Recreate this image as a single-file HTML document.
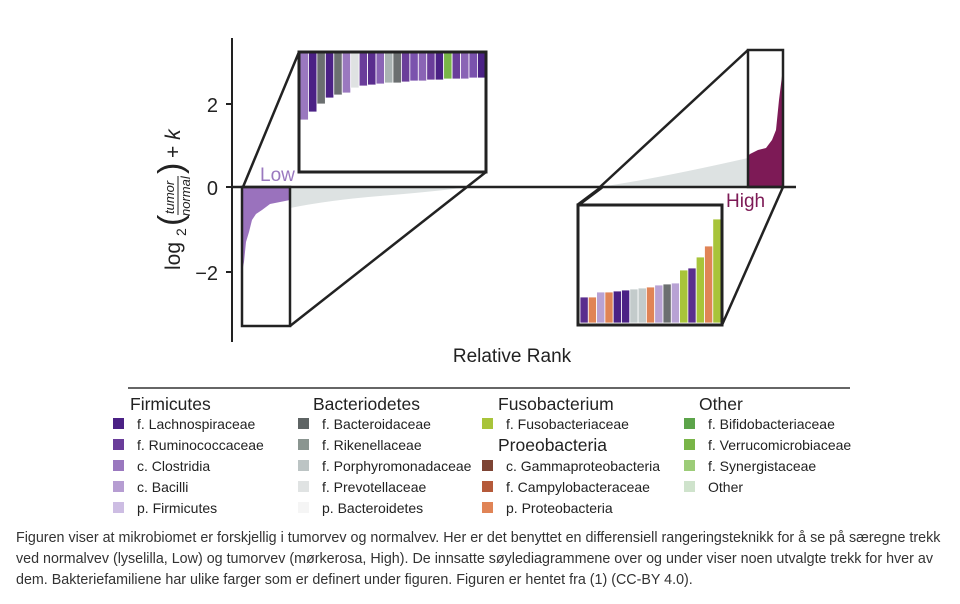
<!DOCTYPE html>
<html><head><meta charset="utf-8"><style>
body{margin:0;background:#fff;width:960px;height:604px;overflow:hidden;font-family:"Liberation Sans",sans-serif}
svg{position:absolute;left:0;top:0}
</style></head><body>
<svg width="960" height="604" viewBox="0 0 960 604" font-family="Liberation Sans, sans-serif">
<line x1="232" y1="38" x2="232" y2="342" stroke="#222" stroke-width="2"/>
<line x1="226" y1="104" x2="232" y2="104" stroke="#222" stroke-width="2"/>
<line x1="226" y1="187" x2="232" y2="187" stroke="#222" stroke-width="2"/>
<line x1="226" y1="272" x2="232" y2="272" stroke="#222" stroke-width="2"/>
<text x="218" y="112" font-size="20" text-anchor="end" fill="#222">2</text>
<text x="218" y="195" font-size="20" text-anchor="end" fill="#222">0</text>
<text x="218" y="280" font-size="20" text-anchor="end" fill="#222">−2</text>
<g transform="translate(180,190) rotate(-90)" fill="#222">
<text x="-80" y="0" font-size="21">log</text><text x="-46" y="6" font-size="14">2</text>
<text x="-36" y="2" font-size="34" font-weight="100">(</text>
<text x="-24" y="-6" font-size="13" font-style="italic">tumor</text>
<line x1="-25" y1="-2" x2="14" y2="-2" stroke="#222" stroke-width="1"/>
<text x="-26" y="10" font-size="13" font-style="italic">normal</text>
<text x="16" y="2" font-size="34">)</text>
<text x="32" y="0" font-size="21">+ <tspan font-style="italic">k</tspan></text>
</g>
<text x="512" y="362" font-size="19" text-anchor="middle" fill="#222">Relative Rank</text>
<path d="M290,187 L290,208 Q330,200 380,196 Q430,192 470,187 Z" fill="#dde2e2"/>
<path d="M600,187 Q660,178 748,158 L748,187 Z" fill="#dde2e2"/>
<path d="M242,187 L290,187 L290,200 L270,204 L262,210 L256,214 L252,220 L249,232 L246,242 L244,262 L242,272 Z" fill="#9a72bd"/>
<path d="M748,187 L783,187 L783,68 L779,100 L776,130 L772,140 L766,148 L758,150 L750,154 L748,156 Z" fill="#7d1a56"/>
<line x1="232" y1="187" x2="796" y2="187" stroke="#222" stroke-width="2.5"/>
<text x="260" y="181" font-size="19" fill="#9a78bf">Low</text>
<text x="726" y="207" font-size="19" fill="#7d1a56">High</text>
<rect x="242" y="187" width="48" height="139" fill="none" stroke="#222" stroke-width="2.5"/>
<line x1="243" y1="187" x2="299" y2="52" stroke="#222" stroke-width="2.5"/>
<line x1="290" y1="326" x2="486" y2="172" stroke="#222" stroke-width="2.5"/>
<g stroke="#fff" stroke-width="0.8">
<rect x="300" y="53" width="8.45" height="67" fill="#9a78bf"/>
<rect x="308.45" y="53" width="8.45" height="59" fill="#4b2185"/>
<rect x="316.9" y="53" width="8.45" height="51" fill="#6b6f70"/>
<rect x="325.35" y="53" width="8.45" height="45" fill="#4b2185"/>
<rect x="333.8" y="53" width="8.45" height="42" fill="#6b6f70"/>
<rect x="342.25" y="53" width="8.45" height="40" fill="#9a78bf"/>
<rect x="350.7" y="53" width="8.45" height="35" fill="#dfe2e2"/>
<rect x="359.15" y="53" width="8.45" height="33" fill="#6a3d9a"/>
<rect x="367.6" y="53" width="8.45" height="32" fill="#5a2d8e"/>
<rect x="376.05" y="53" width="8.45" height="31" fill="#8a64b5"/>
<rect x="384.5" y="53" width="8.45" height="30" fill="#aab3b3"/>
<rect x="392.95" y="53" width="8.45" height="30" fill="#6b6f70"/>
<rect x="401.4" y="53" width="8.45" height="29" fill="#6a3d9a"/>
<rect x="409.85" y="53" width="8.45" height="28" fill="#7a52ad"/>
<rect x="418.3" y="53" width="8.45" height="28" fill="#8a64b5"/>
<rect x="426.75" y="53" width="8.45" height="27" fill="#6a3d9a"/>
<rect x="435.2" y="53" width="8.45" height="27" fill="#4b2185"/>
<rect x="443.65" y="53" width="8.45" height="26" fill="#79b548"/>
<rect x="452.1" y="53" width="8.45" height="26" fill="#6a3d9a"/>
<rect x="460.55" y="53" width="8.45" height="26" fill="#8a64b5"/>
<rect x="469" y="53" width="8.45" height="25" fill="#7a52ad"/>
<rect x="477.45" y="53" width="8.45" height="25" fill="#4b2185"/>
</g>
<rect x="299" y="52" width="187" height="120" fill="none" stroke="#222" stroke-width="3"/>
<rect x="748" y="50" width="35" height="137" fill="none" stroke="#222" stroke-width="2.5"/>
<line x1="600" y1="187" x2="748" y2="50" stroke="#222" stroke-width="2.5"/>
<line x1="578" y1="205" x2="602" y2="187" stroke="#222" stroke-width="3.5"/>
<line x1="722" y1="325" x2="783" y2="187" stroke="#222" stroke-width="2.5"/>
<g stroke="#fff" stroke-width="0.8">
<rect x="580" y="297" width="8.3" height="26" fill="#5a2d8e"/>
<rect x="588.3" y="297" width="8.3" height="26" fill="#e08456"/>
<rect x="596.6" y="292" width="8.3" height="31" fill="#b8a2d4"/>
<rect x="604.9" y="292" width="8.3" height="31" fill="#e08456"/>
<rect x="613.2" y="291" width="8.3" height="32" fill="#4b2185"/>
<rect x="621.5" y="290" width="8.3" height="33" fill="#4b2185"/>
<rect x="629.8" y="289" width="8.3" height="34" fill="#c3cbcb"/>
<rect x="638.1" y="288" width="8.3" height="35" fill="#c3cbcb"/>
<rect x="646.4" y="287" width="8.3" height="36" fill="#e08456"/>
<rect x="654.7" y="285" width="8.3" height="38" fill="#b8a2d4"/>
<rect x="663" y="284" width="8.3" height="39" fill="#6b6f70"/>
<rect x="671.3" y="283" width="8.3" height="40" fill="#b8a2d4"/>
<rect x="679.6" y="270" width="8.3" height="53" fill="#a8c43a"/>
<rect x="687.9" y="268" width="8.3" height="55" fill="#5a2d8e"/>
<rect x="696.2" y="257" width="8.3" height="66" fill="#a8c43a"/>
<rect x="704.5" y="246" width="8.3" height="77" fill="#e08456"/>
<rect x="712.8" y="219" width="8.3" height="104" fill="#a8c43a"/>
</g>
<rect x="578" y="205" width="144" height="120" fill="none" stroke="#222" stroke-width="3"/>
<line x1="128" y1="388" x2="850" y2="388" stroke="#333" stroke-width="1.5"/>
<g font-size="17.5" fill="#222">
<text x="130" y="410">Firmicutes</text>
<text x="313" y="410">Bacteriodetes</text>
<text x="498" y="410">Fusobacterium</text>
<text x="699" y="410">Other</text>
<text x="498" y="451">Proeobacteria</text>
</g>
<g font-size="14" fill="#222">
<rect x="113" y="418" width="11" height="11" fill="#4b2185"/><text x="137" y="429">f. Lachnospiraceae</text>
<rect x="113" y="439" width="11" height="11" fill="#6a3d9a"/><text x="137" y="450">f. Ruminococcaceae</text>
<rect x="113" y="460" width="11" height="11" fill="#9a78bf"/><text x="137" y="471">c. Clostridia</text>
<rect x="113" y="481" width="11" height="11" fill="#b69dd2"/><text x="137" y="492">c. Bacilli</text>
<rect x="113" y="502" width="11" height="11" fill="#cdbde3"/><text x="137" y="513">p. Firmicutes</text>
<rect x="298" y="418" width="11" height="11" fill="#5e6464"/><text x="322" y="429">f. Bacteroidaceae</text>
<rect x="298" y="439" width="11" height="11" fill="#8a9590"/><text x="322" y="450">f. Rikenellaceae</text>
<rect x="298" y="460" width="11" height="11" fill="#bcc4c4"/><text x="322" y="471">f. Porphyromonadaceae</text>
<rect x="298" y="481" width="11" height="11" fill="#e0e3e3"/><text x="322" y="492">f. Prevotellaceae</text>
<rect x="298" y="502" width="11" height="11" fill="#f5f5f5"/><text x="322" y="513">p. Bacteroidetes</text>
<rect x="482" y="418" width="11" height="11" fill="#a8c43a"/><text x="506" y="429">f. Fusobacteriaceae</text>
<rect x="482" y="460" width="11" height="11" fill="#7d4434"/><text x="506" y="471">c. Gammaproteobacteria</text>
<rect x="482" y="481" width="11" height="11" fill="#b55a3a"/><text x="506" y="492">f. Campylobacteraceae</text>
<rect x="482" y="502" width="11" height="11" fill="#e08456"/><text x="506" y="513">p. Proteobacteria</text>
<rect x="684" y="418" width="11" height="11" fill="#5ca44a"/><text x="708" y="429">f. Bifidobacteriaceae</text>
<rect x="684" y="439" width="11" height="11" fill="#79b548"/><text x="708" y="450">f. Verrucomicrobiaceae</text>
<rect x="684" y="460" width="11" height="11" fill="#9ccc78"/><text x="708" y="471">f. Synergistaceae</text>
<rect x="684" y="481" width="11" height="11" fill="#cfe3cc"/><text x="708" y="492">Other</text>
</g>
<rect x="851" y="410" width="109" height="110" fill="#fff"/>
<g font-size="14.3" fill="#333">
<text x="16" y="542">Figuren viser at mikrobiomet er forskjellig i tumorvev og normalvev. Her er det benyttet en differensiell rangeringsteknikk for å se på særegne trekk</text>
<text x="16" y="563">ved normalvev (lyselilla, Low) og tumorvev (mørkerosa, High). De innsatte søylediagrammene over og under viser noen utvalgte trekk for hver av</text>
<text x="16" y="584">dem. Bakteriefamiliene har ulike farger som er definert under figuren. Figuren er hentet fra (1) (CC-BY 4.0).</text>
</g>
</svg>
</body></html>
